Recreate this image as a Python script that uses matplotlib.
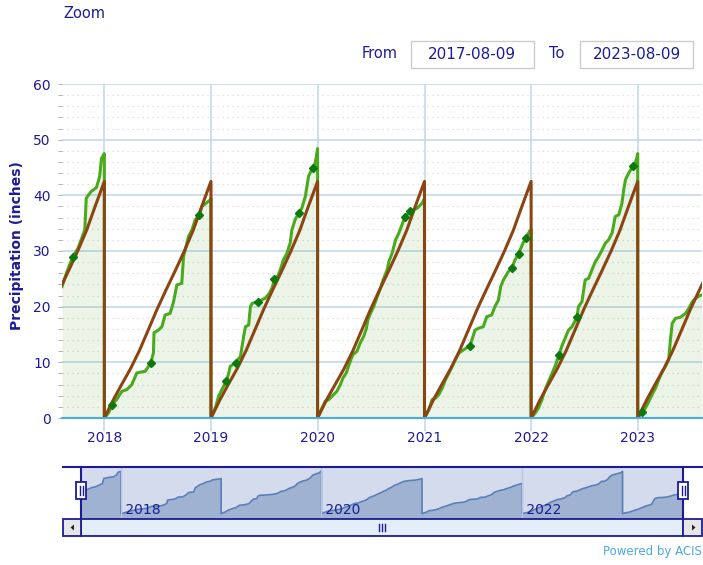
import numpy as np
import matplotlib
matplotlib.use('Agg')
from matplotlib import pyplot as plt
from matplotlib.patches import Rectangle, Polygon

plt.rcParams.update({'font.family': 'DejaVu Sans'})

"""
Cumulative precipitation (observed vs normal), Aug 2017 - Aug 2023
"""
# observed cumulative precip, day of year (0 = Jan 1) -> inches
obs_2017_day = [220, 235, 257, 275, 298, 303, 320, 338, 349, 355, 365]
obs_2017_val = [23.6, 26.0, 29.0, 30.5, 33.8, 39.5, 40.7, 41.4, 43.4, 46.6, 47.5]

obs_2018_day = [0, 14, 27, 42, 60, 77, 94, 111, 140, 159, 168, 170, 185, 197, 208,
                225, 237, 248, 265, 271, 277, 288, 294, 300, 311, 325, 334, 351, 363, 365]
obs_2018_val = [0, 0.9, 2.4, 3.3, 4.8, 5.1, 6.0, 8.1, 8.4, 9.9, 11.7, 15.3, 15.8, 16.4, 18.5,
                18.8, 20.9, 23.9, 24.2, 29.0, 30.2, 32.6, 33.2, 33.8, 35.6, 36.4, 38.0, 38.7, 39.2, 39.5]

obs_2019_day = [0, 15, 26, 43, 53, 61, 66, 84, 101, 112, 118, 129, 135, 141, 160, 185, 200,
                210, 217, 231, 237, 248, 260, 271, 277, 288, 300, 311, 323, 334, 348, 357, 365]
obs_2019_val = [0, 1.8, 3.9, 5.7, 6.6, 8.1, 9.3, 9.9, 11.1, 14.7, 16.4, 16.7, 20.0, 20.6, 20.9, 21.5, 22.4,
                23.5, 24.9, 25.7, 26.6, 28.4, 29.6, 31.4, 33.8, 35.6, 36.9, 37.7, 39.8, 43.4, 45.0, 45.8, 48.4]

obs_2020_day = [0, 15, 26, 38, 55, 66, 78, 87, 98, 106, 114, 121, 135, 146, 158, 167, 172,
                181, 192, 204, 215, 224, 229, 238, 244, 255, 267, 278, 299, 316, 341, 358, 366]
obs_2020_val = [0, 1.8, 3.0, 3.3, 4.2, 4.8, 6.0, 7.2, 8.1, 9.3, 10.5, 11.4, 12.0, 13.5, 14.7, 16.1, 17.6,
                18.8, 20.0, 21.8, 23.3, 24.8, 25.4, 26.6, 28.1, 29.6, 32.0, 33.2, 36.1, 37.1, 37.7, 38.6, 39.5]

obs_2021_day = [0, 15, 26, 38, 49, 61, 72, 84, 95, 106, 118, 135, 156, 173, 184, 201, 213,
                230, 241, 253, 261, 270, 287, 299, 310, 322, 337, 348, 359, 365]
obs_2021_val = [0, 1.5, 3.3, 3.6, 4.2, 5.4, 6.9, 8.1, 9.3, 10.5, 11.7, 12.3, 13.0, 15.8, 16.1, 16.4, 18.2,
                18.5, 20.0, 21.2, 23.6, 24.8, 26.3, 27.0, 28.4, 29.5, 31.4, 32.4, 33.5, 33.8]

obs_2022_day = [0, 14, 25, 37, 48, 60, 65, 74, 82, 96, 105, 117, 128, 140, 157, 162, 174, 185,
                197, 208, 220, 231, 243, 254, 265, 277, 288, 300, 311, 317, 323, 334, 349, 357, 365]
obs_2022_val = [0, 0.9, 1.8, 3.3, 5.1, 6.6, 7.2, 8.4, 9.3, 11.4, 12.9, 14.4, 15.8, 16.4, 18.1, 20.0, 20.9, 24.8,
                25.1, 26.6, 28.1, 29.0, 30.2, 31.4, 32.0, 33.2, 36.2, 36.5, 38.6, 41.0, 42.8, 44.0, 45.3, 45.8, 47.5]

obs_2023_day = [0, 15, 26, 38, 49, 61, 72, 84, 95, 106, 112, 118, 129, 146, 164, 175, 187, 198, 209, 220]
obs_2023_val = [0, 1.1, 1.8, 3.0, 4.2, 5.4, 6.9, 8.4, 9.3, 10.5, 14.1, 17.0, 17.9, 18.1, 18.8, 19.7,
                20.9, 21.5, 21.9, 22.1]

# normal cumulative precip at the first of each month (Jan 1 .. next Jan 1)
norm_val = [0, 3.3, 6.0, 8.9, 12.1, 15.9, 19.6, 23.1, 26.5, 29.9, 33.7, 38.1, 42.5]

# highlighted points (dark green diamonds)
mark_dates = ['2017-09-15', '2018-01-28', '2018-06-09', '2018-11-22', '2019-02-23', '2019-03-26',
              '2019-06-10', '2019-08-06', '2019-10-28', '2019-12-15', '2020-10-26', '2020-11-12',
              '2021-06-06', '2021-10-27', '2021-11-19', '2021-12-15', '2022-04-07', '2022-06-07',
              '2022-12-16', '2023-01-16']
mark_vals = [29.0, 2.4, 9.9, 36.4, 6.6, 9.9, 20.9, 24.9, 36.9, 45.0, 36.1, 37.1,
             13.0, 27.0, 29.5, 32.4, 11.4, 18.1, 45.3, 1.1]

years = [2017, 2018, 2019, 2020, 2021, 2022, 2023]
obs_days = [obs_2017_day, obs_2018_day, obs_2019_day, obs_2020_day, obs_2021_day, obs_2022_day, obs_2023_day]
obs_vals = [obs_2017_val, obs_2018_val, obs_2019_val, obs_2020_val, obs_2021_val, obs_2022_val, obs_2023_val]

obs_x, obs_y, norm_x, norm_y = [], [], [], []
for y, d, v in zip(years, obs_days, obs_vals):
    obs_x.append(np.datetime64(f'{y}-01-01') + np.array(d).astype('timedelta64[D]'))
    obs_y.append(np.array(v))
    months = np.arange(f'{y}-01', f'{y + 1}-02', dtype='datetime64[M]').astype('datetime64[D]')
    norm_x.append(months)
    norm_y.append(np.array(norm_val))
obs_x = np.concatenate(obs_x)
obs_y = np.concatenate(obs_y)
norm_x = np.concatenate(norm_x)
norm_y = np.concatenate(norm_y)
mark_x = np.array(mark_dates, dtype='datetime64[D]')

x0 = np.datetime64('2017-08-09')
x1 = np.datetime64('2023-08-09')

navy = '#1c1c96'
W, H = 703, 565

def fig_box(l, t, r, b):
    return [l / W, 1 - b / H, (r - l) / W, (b - t) / H]

fig = plt.figure(figsize=(W / 100, H / 100), dpi=100)

# main chart
ax = fig.add_axes(fig_box(62, 84, 702, 418))
ax.fill_between(obs_x, obs_y, 0, color='#4ca31c', alpha=0.11, lw=0, zorder=1)
ax.plot(obs_x, obs_y, '-', color='#4aaa1e', lw=2.2, zorder=3)
ax.plot(norm_x, norm_y, '-', color='#8b4513', lw=2.2, zorder=4)
ax.plot(mark_x, mark_vals, 'D', color='#0b7a0b', ms=4.5, zorder=5)

ax.set_xlim(x0, x1)
ax.set_ylim(0, 60)
ax.set_yticks(np.arange(0, 61, 10))
ax.set_yticks(np.arange(0, 61, 2), minor=True)
xt = np.array([f'{y}-01-01' for y in range(2018, 2024)], dtype='datetime64[D]')
ax.set_xticks(xt)
ax.set_xticklabels([str(y) for y in range(2018, 2024)])
ax.grid(True, which='major', axis='y', color='#c4d9ee', lw=1.2, zorder=0)
ax.grid(True, which='minor', axis='y', color='#d8d8d8', lw=0.9, ls=(0, (1, 3)), zorder=0)
ax.grid(True, which='major', axis='x', color='#c4d9ee', lw=1.2, zorder=0)
ax.set_axisbelow(True)
for s in ['top', 'right', 'left']:
    ax.spines[s].set_visible(False)
ax.spines['bottom'].set_color('#46aee6')
ax.spines['bottom'].set_linewidth(1.5)
ax.spines['bottom'].set_zorder(6)
ax.tick_params(axis='y', which='both', length=3, width=0.7, color='#b0b0b0',
               labelsize=10, labelcolor=navy, pad=5)
ax.tick_params(axis='y', which='minor', labelleft=False)
ax.tick_params(axis='x', length=9, width=1.2, color='#c4d9ee', labelsize=10,
               labelcolor=navy, pad=0)
ax.set_facecolor('white')

# navigator
nav = fig.add_axes(fig_box(81, 467, 683, 518))
nav.set_facecolor('#d3dbec')
nav.fill_between(obs_x, obs_y, -10, color='#9fb2d2', lw=0)
nav.plot(obs_x, obs_y, '-', color='#5a7fb6', lw=1.2)
nav.set_xlim(x0, x1)
nav.set_ylim(-5, 52.5)
nav_ticks = np.array(['2018-01-01', '2020-01-01', '2022-01-01'], dtype='datetime64[D]')
for t, lab in zip(nav_ticks, ['2018', '2020', '2022']):
    nav.axvline(t, color='#b8c6de', lw=1)
    nav.text(t, -3.5, ' ' + lab, color=navy, fontsize=10, ha='left', va='bottom')
nav.set_xticks([])
nav.set_yticks([])
for s in nav.spines.values():
    s.set_visible(False)

# overlay for the widgets, pixel coords
ov = fig.add_axes([0, 0, 1, 1])
ov.set_xlim(0, W)
ov.set_ylim(H, 0)
ov.axis('off')

ov.text(63, 14, 'Zoom', color=navy, fontsize=10.5, va='center', ha='left')
ov.text(362, 54, 'From', color=navy, fontsize=10.5, va='center', ha='left')
ov.text(549, 54, 'To', color=navy, fontsize=10.5, va='center', ha='left')
ov.add_patch(Rectangle((411, 41), 123, 27, fc='white', ec='#cccccc', lw=1))
ov.add_patch(Rectangle((580, 41), 113, 27, fc='white', ec='#cccccc', lw=1))
ov.text(472, 54.5, '2017-08-09', color=navy, fontsize=11, va='center', ha='center')
ov.text(636.5, 54.5, '2023-08-09', color=navy, fontsize=11, va='center', ha='center')

ov.text(17, 246, 'Precipitation (inches)', color=navy, fontsize=10, fontweight='bold',
        rotation=90, va='center', ha='center')

# navigator outline
ov.plot([63, 702], [467, 467], color=navy, lw=1.5)
ov.plot([81, 81], [467, 519], color=navy, lw=1.5)
ov.plot([683, 683], [467, 519], color=navy, lw=1.5)

# scrollbar
ov.add_patch(Rectangle((81, 519), 602, 17, fc='#e4eef9', ec=navy, lw=1.3))
ov.add_patch(Rectangle((63, 519), 18, 17, fc='#e6e6e6', ec=navy, lw=1.3))
ov.add_patch(Rectangle((683, 519), 19, 17, fc='#e6e6e6', ec=navy, lw=1.3))
ov.add_patch(Polygon([[70.5, 527.5], [74, 524.5], [74, 530.5]], closed=True, fc='#222222', ec='none'))
ov.add_patch(Polygon([[695.5, 527.5], [692, 524.5], [692, 530.5]], closed=True, fc='#222222', ec='none'))
for gx in [379, 382, 385]:
    ov.plot([gx, gx], [524, 531], color=navy, lw=1)

# handles
for hx in [81, 683]:
    ov.add_patch(Rectangle((hx - 5, 482), 10, 17, fc='white', ec=navy, lw=1.3, zorder=5))
    ov.plot([hx - 1.5, hx - 1.5], [486, 495], color=navy, lw=1, zorder=6)
    ov.plot([hx + 1.5, hx + 1.5], [486, 495], color=navy, lw=1, zorder=6)

ov.text(702, 551, 'Powered by ACIS', color='#4aa8e6', fontsize=8.5, va='center', ha='right')

fig.savefig('out.png', dpi=100)
